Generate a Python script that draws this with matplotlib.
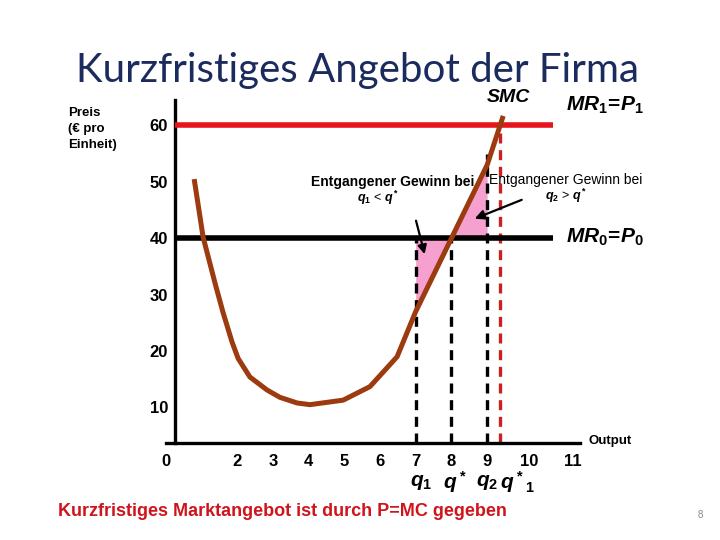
import matplotlib as mpl
mpl.use('Agg')

import numpy as np
import matplotlib.pyplot as plt

plt.rcParams['font.family'] = ['Liberation Sans', 'DejaVu Sans']
plt.rcParams['mathtext.fontset'] = 'custom'
plt.rcParams['mathtext.it'] = 'Liberation Sans:italic:bold'
plt.rcParams['mathtext.rm'] = 'Liberation Sans:bold'
plt.rcParams['mathtext.bf'] = 'Liberation Sans:bold'

# SMC curve (output, price)
smc_q = [0.80, 1.05, 1.39, 1.61, 1.86, 2.03, 2.36, 2.84, 3.20, 3.68, 4.04,
         4.97, 5.72, 6.48, 7.0, 8.0, 9.0, 9.45]
smc_p = [50.5, 40.2, 31.9, 26.8, 21.6, 18.7, 15.4, 13.1, 11.8, 10.8, 10.5,
         11.3, 13.7, 19.0, 27.0, 40.0, 53.0, 61.7]

p0 = 40   # MR0 = P0
p1 = 60   # MR1 = P1
q1, q_star, q2, q_star1 = 7, 8, 9, 9.37

y_ticks = [10, 20, 30, 40, 50, 60]
x_ticks = [0, 2, 3, 4, 5, 6, 7, 8, 9, 10, 11]
x_tick_shift = {10: 0.18, 11: 0.4}   # the slide spaces the last two labels a bit wider

q_names = [r'$q_1$', r'$q^*$', r'$q_2$', r'$q^*{}_1$']
q_name_pos = [7.15, 8.1, 9.0, 9.85]

brown = '#9c3a10'
pink = '#f6a0cf'
red = '#e8141b'

fig = plt.figure(figsize=(7.2, 5.4), dpi=100)
ax = fig.add_axes([0.230, 0.1796, 0.5756, 0.635])
ymin = 3.7
xspine = 0.26
ax.set_xlim(0, 11.6)
ax.set_ylim(ymin, 64.5)

ax.spines['top'].set_visible(False)
ax.spines['right'].set_visible(False)
ax.spines['left'].set_position(('data', xspine))
ax.spines['left'].set_linewidth(2.4)
ax.spines['bottom'].set_linewidth(2.4)

ax.set_yticks(y_ticks)
ax.set_yticklabels([str(v) for v in y_ticks], fontsize=12, fontweight='bold')
ax.set_xticks([v + x_tick_shift.get(v, 0) for v in x_ticks])
ax.set_xticklabels([str(v) for v in x_ticks], fontsize=12, fontweight='bold')
ax.tick_params(axis='x', length=0, pad=8)
ax.tick_params(axis='y', length=0, pad=5)

# shaded lost-profit areas
q_arr = np.array(smc_q)
p_arr = np.array(smc_p)
m1 = (q_arr >= q1) & (q_arr <= q_star)
ax.fill_between(q_arr[m1], p_arr[m1], p0, color=pink, lw=0, zorder=1)
m2 = (q_arr >= q_star) & (q_arr <= q2)
ax.fill_between(q_arr[m2], p0, p_arr[m2], color=pink, lw=0, zorder=1)

# dashed guide lines
ax.vlines([q1, q_star], ymin, p0, colors='black', linestyles=(0, (3, 2)), lw=2.4, zorder=2)
ax.vlines([q2], ymin, 55, colors='black', linestyles=(0, (3, 2)), lw=2.4, zorder=2)
ax.vlines([q_star1], ymin, p1, colors='#cc1f1f', linestyles=(0, (3, 2)), lw=2.4, zorder=2)

# price lines
ax.hlines(p1, xspine, 10.85, colors=red, lw=4, zorder=3)
ax.hlines(p0, xspine, 10.85, colors='black', lw=4, zorder=3)

ax.plot(smc_q, smc_p, color=brown, lw=3.6, solid_capstyle='butt',
        solid_joinstyle='round', zorder=4)

# labels inside the chart
ax.text(9.6, 65.0, 'SMC', fontsize=14, style='italic', fontweight='bold', ha='center', va='center')
ax.text(11.2, 63.5, r'$MR_1\!=\!P_1$', fontsize=15, ha='left', va='center')
ax.text(11.2, 40.2, r'$MR_0\!=\!P_0$', fontsize=15, ha='left', va='center')
ax.text(6.35, 50.0, 'Entgangener Gewinn bei', fontsize=10, fontweight='bold', ha='center', va='center')
ax.text(5.95, 47.2, r'$q_1$ < $q^*$', fontsize=9, ha='center', va='center')
ax.text(11.2, 50.3, 'Entgangener Gewinn bei', fontsize=10, ha='center', va='center')
ax.text(11.2, 47.5, r'$q_2$ > $q^*$', fontsize=9, ha='center', va='center')
ax.annotate('', xy=(7.27, 36.7), xytext=(6.99, 43.6),
            arrowprops=dict(arrowstyle='-|>', color='black', lw=1.6, mutation_scale=13))
ax.annotate('', xy=(8.58, 43.3), xytext=(10.04, 47.0),
            arrowprops=dict(arrowstyle='-|>', color='black', lw=1.6, mutation_scale=14))
ax.text(11.85, ymin + 0.3, 'Output', fontsize=9.5, fontweight='bold', ha='left', va='center')

for name, x in zip(q_names, q_name_pos):
    ax.text(x, -3.3, name, fontsize=15, ha='center', va='center')

for artist in ax.texts:
    artist.set_clip_on(False)

# slide texts
fig.text(0.497, 0.869, 'Kurzfristiges Angebot der Firma', fontsize=29, color='#1b2b5e',
         family='Lato', ha='center', va='center')
fig.text(0.094, 0.761, 'Preis\n(€ pro\nEinheit)', fontsize=9.5, fontweight='bold',
         ha='left', va='center', linespacing=1.4)
fig.text(0.392, 0.053, 'Kurzfristiges Marktangebot ist durch P=MC gegeben', fontsize=13,
         fontweight='bold', color='#d0141c', ha='center', va='center')
fig.text(0.972, 0.046, '8', fontsize=7, color='#888888', ha='center', va='center')

fig.savefig('out.png', dpi=100)
